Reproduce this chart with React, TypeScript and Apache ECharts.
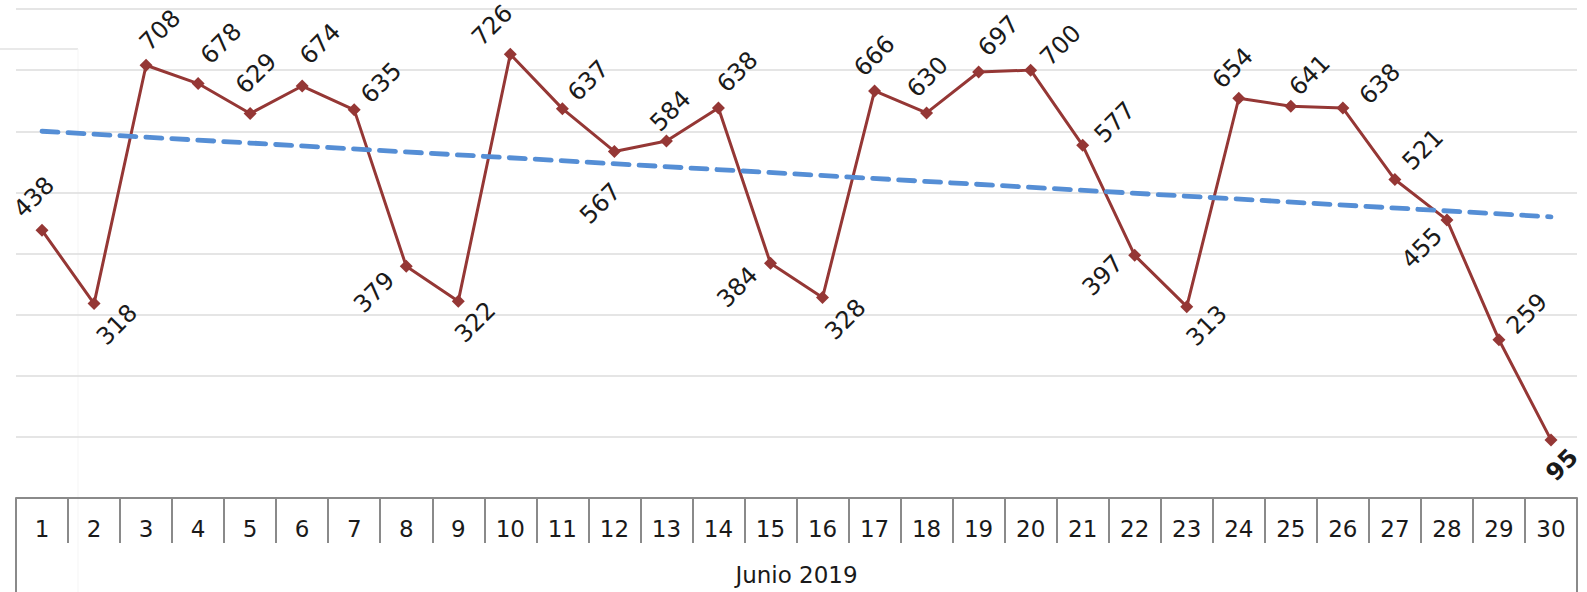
import React, { useEffect, useRef } from "react";
import * as echarts from "echarts";

// ---- data ----
const days = [
  "1", "2", "3", "4", "5", "6", "7", "8", "9", "10",
  "11", "12", "13", "14", "15", "16", "17", "18", "19", "20",
  "21", "22", "23", "24", "25", "26", "27", "28", "29", "30",
];
const values = [
  438, 318, 708, 678, 629, 674, 635, 379, 322, 726,
  637, 567, 584, 638, 384, 328, 666, 630, 697, 700,
  577, 397, 313, 654, 641, 638, 521, 455, 259, 95,
];
const monthLabels = ["Junio 2019"];
// linear trendline read at first and last day
const trendDays = [0, 29];
const trendValues = [600, 460];
const yMin = 0;
const yMax = 800;
const yStep = 100;

// ---- layout: label centre offset from its point (px), and which label is bold ----
const labelOffsets: number[][] = [
  [-8, -33], [23, 21], [14, -35], [23, -40], [6, -40], [18, -42], [27, -27], [-32, 26], [17, 21], [-18, -29],
  [26, -28], [-14, 52], [4, -30], [19, -36], [-33, 24], [23, 22], [0, -35], [1, -36], [20, -36], [30, -25],
  [32, -23], [-32, 20], [20, 19], [-6, -30], [19, -31], [37, -24], [28, -30], [-25, 28], [28, -26], [11, 25],
];
const boldLabels = [29];

const FONT = "'DejaVu Sans', sans-serif";
const AXIS_GREY = "#8a8a8a";

export default function App() {
  const ref = useRef<HTMLDivElement>(null);

  useEffect(() => {
    if (!ref.current) return;
    const chart = echarts.init(ref.current, undefined, { renderer: "svg" });
    chart.setOption({
      animation: false,
      backgroundColor: "#ffffff",
      grid: { left: 16, right: 10, top: 9, bottom: 94, containLabel: false },
      xAxis: [
        {
          type: "category",
          data: days,
          boundaryGap: true,
          position: "bottom",
          axisLine: { show: true, lineStyle: { color: AXIS_GREY, width: 2 } },
          axisTick: { show: true, interval: 0, length: 45, lineStyle: { color: AXIS_GREY, width: 2 } },
          axisLabel: { interval: 0, fontSize: 23, color: "#1a1a1a", margin: 19, fontFamily: FONT },
          splitLine: { show: false },
        },
        {
          type: "category",
          data: monthLabels,
          boundaryGap: true,
          position: "bottom",
          offset: 45,
          axisLine: { show: false },
          axisTick: { show: true, interval: 0, length: 49, lineStyle: { color: AXIS_GREY, width: 2 } },
          axisLabel: { interval: 0, fontSize: 23, color: "#1a1a1a", margin: 20, fontFamily: FONT },
          splitLine: { show: false },
        },
      ],
      yAxis: {
        type: "value",
        min: yMin,
        max: yMax,
        interval: yStep,
        axisLabel: { show: false },
        axisLine: { show: false },
        axisTick: { show: false },
        splitLine: { show: true, lineStyle: { color: "#dcdcdc", width: 1.5 } },
      },
      graphic: [
        { type: "line", silent: true, shape: { x1: 0, y1: 49, x2: 78, y2: 49 }, style: { stroke: "#e2e2e2", lineWidth: 1.5 } },
        { type: "line", silent: true, shape: { x1: 78, y1: 49, x2: 78, y2: 592 }, style: { stroke: "#f5f5f5", lineWidth: 1 } },
      ],
      series: [
        {
          type: "line",
          xAxisIndex: 0,
          yAxisIndex: 0,
          data: values,
          symbol: "diamond",
          symbolSize: 13,
          showSymbol: true,
          itemStyle: { color: "#953735" },
          lineStyle: { color: "#953735", width: 3 },
          label: { show: false },
          z: 3,
          silent: true,
        },
        {
          type: "line",
          xAxisIndex: 0,
          yAxisIndex: 0,
          data: trendDays.map((d, i) => [d, trendValues[i]]),
          showSymbol: false,
          symbol: "none",
          lineStyle: { color: "#558ed5", width: 4.8, type: [16, 10], cap: "round" },
          z: 4,
          silent: true,
        },
        {
          type: "custom",
          xAxisIndex: 0,
          yAxisIndex: 0,
          silent: true,
          z: 5,
          data: values.map((v, i) => [i, v]),
          renderItem: (params: any, api: any) => {
            const idx = params.dataIndex;
            const pt = api.coord([api.value(0), api.value(1)]);
            const off = labelOffsets[idx];
            const bold = boldLabels.indexOf(idx) >= 0;
            return {
              type: "text",
              x: pt[0] + off[0],
              y: pt[1] + off[1],
              rotation: Math.PI / 4,
              style: {
                text: String(api.value(1)),
                fill: "#1a1a1a",
                fontSize: 24,
                fontFamily: FONT,
                fontWeight: bold ? "bold" : "normal",
                align: "center",
                verticalAlign: "middle",
                textAlign: "center",
                textVerticalAlign: "middle",
              },
            };
          },
        },
      ],
    });
    return () => chart.dispose();
  }, []);

  return (
    <div
      ref={ref}
      style={{ position: "absolute", left: 0, top: 0, width: 1587, height: 592 }}
    />
  );
}
